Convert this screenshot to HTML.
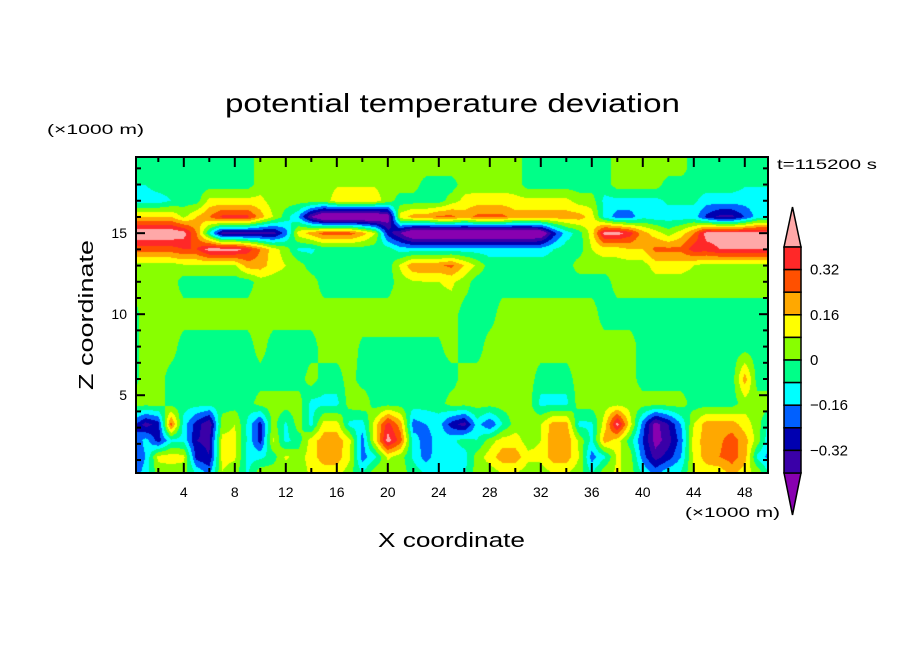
<!DOCTYPE html>
<html><head><meta charset="utf-8"><style>
html,body{margin:0;padding:0;background:#fff;}
#wrap{position:relative;width:904px;height:654px;overflow:hidden;font-family:"Liberation Sans",sans-serif;}
canvas{position:absolute;left:136px;top:157px;}
svg{position:absolute;left:0;top:0;}
</style></head><body>
<div id="wrap">
<canvas id="cv" width="632" height="316"></canvas>
<svg id="sv" width="904" height="654"></svg>
</div>
<script>
// ---- data (values in units of 0.08 K) ----
const unit = 0.08;
const zLevels = [0.3, 1.2, 2.2, 3.2, 4.5, 6, 8, 10, 12, 13, 14, 15, 16, 17, 18, 19, 19.75];
const xTickLabels = [4,8,12,16,20,24,28,32,36,40,44,48];
const zTickLabels = [5,10,15];
const cbarLabels = ["0.32","0.16","0","\u22120.16","\u22120.32"];
const cbarColors = ["#8800b0","#3a00a8","#0000b0","#0060ff","#00ffff","#00ff88","#88ff00","#ffff00","#ffa800","#ff5000","#ff2828","#ffa8a8"];
const row00 = [-3,-1.5,0.5,0.5,0.5,-1.3,-2.5,1,0.5,-1.2,0.5,0.5,0.5,0.5,1.2,1.5,1.5,0.5,-1.2,0.5,0.5,0.5,-0.5,-1.2,-1.2,-1.5,-1.2,0.5,0.5,1.2,1.2,0.5,0.5,1.2,1.2,0.5,-1.2,0.5,1.2,0.5,-1.3,-2.5,-1.5,-1,1,1.5,1.5,2.5,1.5,0.5,-1.3];
const row01 = [-3.5,-2,1.3,1.5,1.3,-3.5,-4,1.3,1.2,-1.3,-1.3,-0.5,1.2,0.5,1.5,2.6,2.6,1.2,-2.5,-1.2,1.2,0.5,-1.2,-2.5,-1.3,-1.5,-1.5,0.5,1.5,2.6,2.6,1.3,1.3,2.6,2.6,1,-2.5,-1.2,1.2,0.5,-2.5,-4.5,-3.5,-2,1.3,2.5,3,3.5,2.5,-1.3,-2.5];
const row02 = [-3.5,-1.5,-3.5,-1.3,-1.3,-4,-4.2,1.3,1.3,-1.2,-3.5,1.2,-1.3,-0.5,1.5,2.6,2.6,1.3,-2.5,1.5,5.5,3.5,-1.5,-2.5,-1.5,-1.3,-0.5,-1,0.5,1.5,1.5,0.5,1,2.8,2.8,0.8,-1.3,2.5,1.5,-0.5,-3,-5.5,-4.5,-2.5,1.5,2.5,2.8,3.5,2.5,0.5,-2];
const row03 = [-2.5,-4.5,-3.5,3.5,-1.5,-3.5,-5,0.5,1,-1.2,-3.5,0.5,-1.2,0.5,-1.3,1.5,1.5,-1.3,-1.5,1.5,4.5,2.5,-2.5,-2,-1.5,-3.5,-4.5,-1.5,-3,-1,0.5,0.5,1,2.5,2.5,-1.3,-1.2,1.5,5.5,1.5,-2.5,-5.5,-4,-2,1,2.5,2.5,2.5,1.5,0.5,-1.5];
const row04 = [0.5,0.5,0.5,-0.5,-0.5,-0.5,-0.5,-0.5,-0.5,-0.5,0.5,0.5,0.5,0.5,-1.3,-1.3,-1.3,0.5,0.8,-0.5,-0.5,-0.5,-0.5,-0.5,-0.5,0.5,0.5,0.5,0.5,0.5,0.5,0.5,-1.3,-1.3,-1.3,0.5,0.5,0.5,0.5,0.5,0.5,0.5,0.5,0.5,-0.5,-0.5,-0.5,-0.5,0.5,0.5,0.5];
const row05 = [-0.5,0.5,0.5,-0.5,-0.5,-0.5,-0.5,-0.5,-0.5,-0.5,-0.5,-0.5,-0.5,-0.5,0.5,-0.5,-0.5,0.5,-0.5,-0.5,-0.5,-0.5,-0.5,-0.5,-0.5,-0.5,0.5,0.5,0.5,0.5,0.5,0.5,-0.5,-0.5,-0.5,0.5,0.5,0.5,0.5,0.5,-0.5,-0.5,-0.5,-0.5,-0.5,-0.5,-0.5,-0.5,2.5,-0.5,-0.5];
const row06 = [-0.5,0.5,0.5,0.5,-0.5,-0.5,-0.5,-0.5,-0.5,-0.5,0.5,-0.5,-0.5,-0.5,-0.5,0.5,0.5,0.5,-0.2,-0.2,-0.2,-0.2,-0.2,-0.2,-0.2,0.5,-0.5,-0.5,0.5,0.5,0.5,0.5,0.5,0.5,0.5,0.5,0.5,0.5,0.5,0.5,-0.5,-0.5,-0.5,-0.5,-0.5,-0.5,-0.5,-0.5,-0.5,-0.5,-0.5];
const row07 = [-0.5,0.5,0.5,0.5,0.5,0.5,0.5,0.5,0.5,0.5,0.5,0.5,0.5,0.5,0.5,0.5,0.5,0.5,0.5,0.5,0.5,0.5,0.5,0.5,0.5,0.5,-0.5,-0.5,-0.5,0.5,0.5,0.5,0.5,0.5,0.5,0.5,0.5,-0.5,-0.5,-0.5,-0.5,-0.5,-0.5,-0.5,-0.5,-0.5,-0.5,-0.5,-0.5,-0.5,-0.5];
const row08 = [0.5,0.5,0.5,0.5,-0.5,-0.5,-0.5,-0.5,-0.5,-0.5,0.5,0.5,0.5,0.5,0.5,-0.5,-0.5,-0.5,-0.5,-0.5,-0.5,0.5,0.9,1.0,1.0,1.2,0.5,-0.5,-0.5,-0.5,-0.5,-0.5,-0.5,-0.5,-0.5,-0.5,-0.5,-0.5,0.5,0.5,0.5,0.5,0.5,0.5,0.5,0.5,0.5,0.5,0.5,0.5,0.5];
const row09 = [0.5,0.5,0.5,0.5,0.8,0.8,0.8,0.8,0.8,2.5,2.5,1.5,1,0.5,-0.5,-0.5,-0.5,-0.5,-0.5,-0.5,-0.5,1.2,2.8,2.8,2.8,3.3,2,0.8,-0.5,-0.5,-0.5,-0.5,-0.5,-0.5,-0.5,0.5,0.5,0.5,0.5,0.5,0.5,1.5,1.5,1.5,1,0.5,0.5,0.5,0.5,0.5,0.5];
const row10 = [3.5,3.5,3.5,3.5,4,4,5.5,5.5,5.5,4.5,3,1.5,0.5,-1.2,-1.2,-0.5,-0.5,-0.5,-0.5,-0.5,-0.5,-1.5,-1.5,-1.5,-1.5,-1.5,-1.5,-1.5,-1.5,-1.5,-1.5,-1.5,-1.5,-1,-0.5,-0.5,1,1.5,1.5,2,2,3.3,3.3,3.3,4.5,4.5,5,5,5,5,5];
const row11 = [6,6,6,6,5.5,3,-1,-4.5,-4.5,-4.5,-4.5,-4.5,-2.5,1.5,2.5,3.5,3.5,3.5,2.5,1,-3.5,-5,-7,-7,-7,-7,-7,-7,-7,-7,-7,-7,-6.5,-3.5,-1.5,-0.5,1.5,5.5,5.5,4.5,2.5,1.5,0.5,1.5,3,5.5,5.5,5.5,5.5,5.5,5.5];
const row12 = [2,2,2,2,0.8,2,3,4.3,4.3,4.3,2.5,1,-0.5,-2,-5,-7,-7,-7,-7,-7,-6,1.5,2.5,2.5,3.3,3.3,2.5,3.3,3.3,3.3,2.5,2.5,2.5,2.5,2.5,2.5,1.5,-1.3,-2.5,-2.5,-1.3,-1.5,-1.5,-1.5,-1.5,-3.3,-4.3,-4.3,-3,-1.5,-1.5];
const row13 = [-1.5,-1.5,-1.5,-1,-0.5,-0.5,1.3,1.3,1.3,1.3,1.3,0.5,0.5,0.5,0.5,0.5,1.5,1.5,1.5,1.5,0.5,-0.5,-0.5,-0.5,-0.5,0.5,1.3,1.5,1.5,1.5,1.3,1.3,1.3,1.3,1.3,0.5,0.5,-1.3,-1.3,-1.3,-1.3,-1.3,-0.8,-0.8,-0.8,-1.5,-1.5,-1.5,-1.5,-1.5,-1.5];
const row14 = [-1,-1,-0.5,-0.5,-0.5,-0.5,-0.5,-0.5,-0.5,-0.5,0.5,0.5,0.5,0.5,0.5,0.5,0.9,0.9,0.9,0.9,0.5,0.5,0.5,-0.5,-0.5,-0.5,0.5,0.5,0.5,0.5,0.5,-0.5,-0.5,-0.5,-0.5,-0.5,-0.5,-0.5,0.5,0.5,0.5,0.5,-0.5,-0.5,-0.5,-0.5,-0.5,-0.5,-0.9,-0.9,-0.9];
const row15 = [-0.5,-0.5,-0.5,-0.5,-0.5,-0.5,-0.5,-0.5,-0.5,-0.5,0.5,0.5,0.5,0.5,0.5,0.5,0.5,0.5,0.5,0.5,0.5,0.5,0.5,0.5,0.5,0.5,0.5,0.5,0.5,0.5,0.5,-0.5,-0.5,-0.5,-0.5,-0.5,-0.5,-0.5,0.5,0.5,0.5,0.5,0.5,0.5,-0.5,-0.5,-0.5,-0.5,-0.5,-0.5,-0.5];
const row16 = [-0.5,-0.5,-0.5,-0.5,-0.5,-0.5,-0.5,-0.5,-0.5,-0.5,0.5,0.5,0.5,0.5,0.5,0.5,0.5,0.5,0.5,0.5,0.5,0.5,0.5,0.5,0.5,0.5,0.5,0.5,0.5,0.5,0.5,-0.5,-0.5,-0.5,-0.5,-0.5,-0.5,-0.5,0.5,0.5,0.5,0.5,0.5,0.5,-0.5,-0.5,-0.5,-0.5,-0.5,-0.5,-0.5];
const field = [row00,row01,row02,row03,row04,row05,row06,row07,row08,row09,row10,row11,row12,row13,row14,row15,row16];

// ---- axes ----
const PX0=136, PX1=768, PY0=157, PY1=473;
const xMin=0.25, xMax=49.82, zBot=0.2, zTop=19.7;
function xs(x){return PX0+(x-xMin)/(xMax-xMin)*(PX1-PX0);}
function zs(z){return PY1-(z-zBot)/(zTop-zBot)*(PY1-PY0);}
function xinv(px){return xMin+(px-PX0)/(PX1-PX0)*(xMax-xMin);}
function zinv(py){return zBot+(PY1-py)/(PY1-PY0)*(zTop-zBot);}

function sample(x,z){
  const nx=field[0].length;
  let xi=Math.max(0,Math.min(nx-1.0001,x));
  const i=Math.floor(xi), fx=xi-i;
  let k=0;
  if(z<=zLevels[0]){k=0;z=zLevels[0];}
  else if(z>=zLevels[zLevels.length-1]){k=zLevels.length-2;z=zLevels[zLevels.length-1];}
  else{while(zLevels[k+1]<z)k++;}
  const fz=(z-zLevels[k])/(zLevels[k+1]-zLevels[k]);
  const a=field[k][i]*(1-fx)+field[k][i+1]*fx;
  const b=field[k+1][i]*(1-fx)+field[k+1][i+1]*fx;
  return (a*(1-fz)+b*fz)*unit;
}
function hex(c){return [parseInt(c.substr(1,2),16),parseInt(c.substr(3,2),16),parseInt(c.substr(5,2),16)];}
const rgb=cbarColors.map(hex);
function band(v){let b=Math.floor(v/unit)+6;return Math.max(0,Math.min(11,b));}

const cv=document.getElementById('cv'),ctx=cv.getContext('2d');
const img=ctx.createImageData(632,316);
for(let py=0;py<316;py++){
  const z=zinv(PY0+py+0.5);
  for(let px=0;px<632;px++){
    const x=xinv(PX0+px+0.5);
    const c=rgb[band(sample(x,z))];
    const o=(py*632+px)*4;
    img.data[o]=c[0];img.data[o+1]=c[1];img.data[o+2]=c[2];img.data[o+3]=255;
  }
}
ctx.putImageData(img,0,0);

// ---- SVG overlay ----
const NS='http://www.w3.org/2000/svg', sv=document.getElementById('sv');
function mk(tag,attrs,parent){const e=document.createElementNS(NS,tag);for(const k in attrs)e.setAttribute(k,attrs[k]);(parent||sv).appendChild(e);return e;}
function txt(s,attrs){const e=mk('text',Object.assign({'font-family':'Liberation Sans, sans-serif',fill:'#000'},attrs));e.textContent=s;return e;}

const frame=mk('rect',{x:PX0,y:PY0,width:PX1-PX0,height:PY1-PY0,fill:'none',stroke:'#000','stroke-width':2});



for(let v=2;v<=48;v+=2){
  const X=xs(v), L=(v%4===0)?10:5;
  const t1=mk('line',{x1:X,x2:X,y1:PY1,y2:PY1-L,stroke:'#000','stroke-width':2});
  
  
  const t2=mk('line',{x1:X,x2:X,y1:PY0,y2:PY0+L,stroke:'#000','stroke-width':2});
  
  
}
xTickLabels.forEach(v=>{
  const t=txt(String(v),{x:xs(v),y:497,'font-size':14,'text-anchor':'middle'});
  
  
});
for(let v=1;v<=19;v++){
  const Y=zs(v), L=(v%5===0)?9:5;
  const t1=mk('line',{x1:PX0,x2:PX0+L,y1:Y,y2:Y,stroke:'#000','stroke-width':2});
  
  
  const t2=mk('line',{x1:PX1,x2:PX1-L,y1:Y,y2:Y,stroke:'#000','stroke-width':2});
  
  
}
zTickLabels.forEach(v=>{
  const t=txt(String(v),{x:127,y:zs(v)+5,'font-size':14,'text-anchor':'end'});
  
  
});

let t;
t=txt('potential temperature deviation',{x:225,y:112,'font-size':26,textLength:455,lengthAdjust:'spacingAndGlyphs'});


t=txt('X coordinate',{x:378,y:547,'font-size':20,textLength:147,lengthAdjust:'spacingAndGlyphs'});


t=txt('Z coordinate',{x:0,y:0,'font-size':20,textLength:150,lengthAdjust:'spacingAndGlyphs',transform:'translate(93,390) rotate(-90)'});


t=txt('(\u00d71000 m)',{x:47,y:134,'font-size':14,textLength:97,lengthAdjust:'spacingAndGlyphs'});


t=txt('(\u00d71000 m)',{x:685,y:517,'font-size':14,textLength:95,lengthAdjust:'spacingAndGlyphs'});


t=txt('t=115200 s',{x:777,y:169,'font-size':14,textLength:100,lengthAdjust:'spacingAndGlyphs'});



const CBX=784, CBW=17, CBTOP=247, CBBOT=473;
const boxH=(CBBOT-CBTOP)/10;
const g=mk('g',{});


const up=mk('polygon',{points:`${CBX},${CBTOP} ${CBX+CBW/2},207 ${CBX+CBW},${CBTOP}`,fill:cbarColors[11],stroke:'#000','stroke-width':1.5},g);


const dn=mk('polygon',{points:`${CBX},${CBBOT} ${CBX+CBW/2},515 ${CBX+CBW},${CBBOT}`,fill:cbarColors[0],stroke:'#000','stroke-width':1.5},g);


for(let i=0;i<10;i++){
  const r=mk('rect',{x:CBX,y:CBTOP+i*boxH,width:CBW,height:boxH,fill:cbarColors[10-i],stroke:'#000','stroke-width':1.5},g);
  
  
}
cbarLabels.forEach((s,i)=>{
  const y=CBTOP+(i*2+1)*boxH;
  const l=txt(s,{x:810,y:y+5,'font-size':15});
  
  
});
</script>
</body></html>
